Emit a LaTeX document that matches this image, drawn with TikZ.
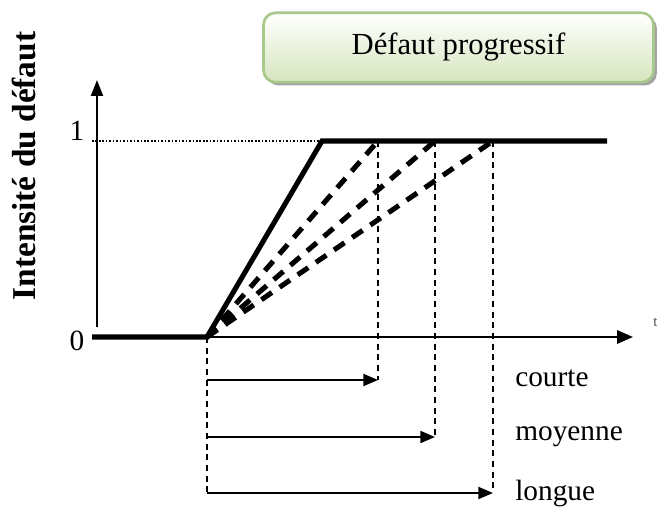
\documentclass[tikz,border=0pt]{standalone}
\usepackage{fontspec}
\setmainfont{Liberation Serif}
\usetikzlibrary{arrows.meta,shadows}
\definecolor{boxborder}{HTML}{A9C98C}
\definecolor{boxfill}{HTML}{D6E5BE}
\tikzset{
  thickline/.style={line width=3.8pt, line cap=butt},
  axisline/.style={line width=1.6pt},
  rampdash/.style={line width=3.8pt, dash pattern=on 9.5pt off 7pt},
  guide/.style={line width=1.1pt, dash pattern=on 4.5pt off 3.5pt},
  spanarrow/.style={line width=1.5pt, -{Triangle[length=11pt,width=9pt]}},
  lbl/.style={font=\fontsize{22}{26}\selectfont, inner sep=0pt},
}
\begin{document}
\begin{tikzpicture}[x=0.75pt,y=-0.75pt]
\useasboundingbox (0,0) rectangle (659,506);
% title box
\node[draw=boxborder, line width=2pt, rounded corners=9pt, top color=white, bottom color=boxfill,
      minimum width=292.5pt, minimum height=52pt, inner sep=0pt,
      drop shadow={shadow xshift=2.5pt, shadow yshift=-2.5pt, fill=black!45, opacity=0.8},
      font=\fontsize{23}{27}\selectfont] (title) at (458.5,47.5) {Défaut progressif};
% key points
\coordinate (O) at (207,337);
\coordinate (Xend) at (633,337);
\coordinate (Ystart) at (97,327);
\coordinate (Yend) at (97,80);
\coordinate (Xleft) at (92,337);
\coordinate (Top) at (322,141);
\coordinate (TopEnd) at (607,141);
\coordinate (Dleft) at (92,141);
\coordinate (C) at (378,141);
\coordinate (M) at (435,141);
\coordinate (L) at (493,141);
\coordinate (Cb) at (378,380);
\coordinate (Mb) at (435,437);
\coordinate (Lb) at (493,493);
\coordinate (Oc) at (207,380);
\coordinate (Om) at (207,437);
\coordinate (Ol) at (207,493);
\coordinate (Obot) at (207,496);
% axes
\draw[axisline, -{Triangle[length=12pt,width=9pt]}] (Ystart) -- (Yend);
\draw[axisline, -{Triangle[length=12pt,width=10pt]}] (O) -- (Xend);
\draw[line width=0.9pt, dash pattern=on 1.2pt off 1.4pt] (Dleft) -- (Top);
% thick profile
\draw[thickline, line join=miter] (Xleft) -- (O) -- (Top) -- (TopEnd);
% dashed ramps
\draw[rampdash] (O) -- (C);
\draw[rampdash] (O) -- (M);
\draw[rampdash] (O) -- (L);
% guides
\draw[guide] (C) -- (Cb);
\draw[guide] (M) -- (Mb);
\draw[guide] (L) -- (Lb);
\draw[guide] (O) -- (Obot);
% duration arrows
\draw[spanarrow] (Oc) -- (Cb);
\draw[spanarrow] (Om) -- (Mb);
\draw[spanarrow] (Ol) -- (Lb);
% labels
\node[lbl, anchor=west] (courte) at (515,378) {courte};
\node[lbl, anchor=west] (moyenne) at (515,437) {moyenne};
\node[lbl, anchor=west] (longue) at (515,493) {longue};
\node[lbl] (one) at (77,131) {1};
\node[lbl] (zero) at (77,341) {0};
\node[lbl, font=\fontsize{25}{29}\selectfont\bfseries, rotate=90] (ylab) at (24,166) {Intensité du défaut};
\node[inner sep=0pt, anchor=west, text=black!70, font=\fontsize{11}{12}\selectfont] (tlab) at (653,322) {t};
\end{tikzpicture}
\end{document}
